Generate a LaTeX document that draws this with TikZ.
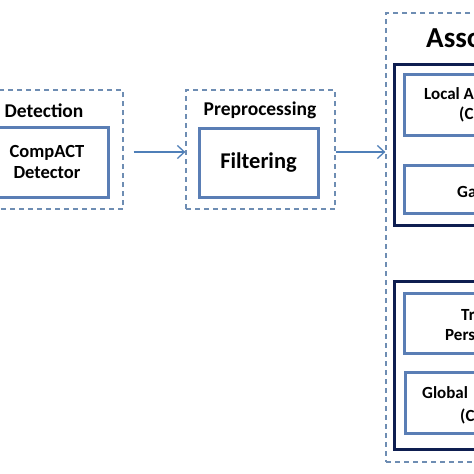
\documentclass[tikz,border=0pt]{standalone}
\usepackage{fontspec}
\setmainfont{Carlito}
\usetikzlibrary{arrows.meta}
\definecolor{dashc}{HTML}{6E8DB3}
\definecolor{boxc}{HTML}{5A7EB5}
\definecolor{navy}{HTML}{0E1E50}
\definecolor{arrc}{HTML}{4F7FB8}
\begin{document}
\begin{tikzpicture}[x=1pt,y=-1pt,
 dashbox/.style={draw=dashc,line width=1.3pt,dash pattern=on 5pt off 4pt,inner sep=0pt},
 innerbox/.style={draw=boxc,line width=3pt,inner sep=0pt},
 darkbox/.style={draw=navy,line width=3pt,inner sep=0pt},
 headlbl/.style={font=\bfseries\fontsize{19.5}{22}\selectfont,inner sep=0pt},
 lbl/.style={font=\bfseries\fontsize{18.5}{21.5}\selectfont,inner sep=0pt},
 rlbl/.style={font=\bfseries\fontsize{17}{20}\selectfont,inner sep=0pt},
 biglbl/.style={font=\bfseries\fontsize{22.5}{25}\selectfont,inner sep=0pt},
 hugelbl/.style={font=\bfseries\fontsize{29}{32}\selectfont,inner sep=0pt},
 flow/.style={draw=arrc,line width=1.3pt,-{Straight Barb[length=7pt,width=13pt,line width=1.3pt]}}]
\useasboundingbox (0,0) rectangle (474,474);
\fill[white] (0,0) rectangle (474,474);
\clip (0,0) rectangle (474,474);

% Detection
\node[dashbox,minimum width=158pt,minimum height=119pt] (detbox) at (44,149.5) {};
\node[headlbl] (detlbl) at (44,111) {Detection};
\node[innerbox,lbl,align=center,minimum width=122pt,minimum height=70pt] (det) at (47,162) {CompACT\\Detector};

% Preprocessing
\node[dashbox,minimum width=149pt,minimum height=119pt] (prebox) at (260.5,149.5) {};
\node[headlbl] (prelbl) at (260,110) {Preprocessing};
\node[innerbox,biglbl,minimum width=119pt,minimum height=69pt] (filt) at (258.5,162.5) {Filtering};

% Association
\node[dashbox,minimum width=200pt,minimum height=449pt] (assocbox) at (486,237.5) {};
\node[hugelbl,anchor=base west] (assoclbl) at (426,47) {Asso};
\node[darkbox,minimum width=180pt,minimum height=161pt] (dark1) at (484,144.5) {};
\node[innerbox,minimum width=160pt,minimum height=61pt] (loc) at (484,104.5) {};
\node[innerbox,minimum width=160pt,minimum height=48pt] (gat) at (484,189) {};
\node[darkbox,minimum width=180pt,minimum height=168pt] (dark2) at (484,365) {};
\node[innerbox,minimum width=160pt,minimum height=60pt] (trk) at (484,323) {};
\node[innerbox,minimum width=158pt,minimum height=61pt] (glob) at (484,402.5) {};

\node[rlbl,anchor=base west] (loct1) at (424,99) {Local A};
\node[rlbl,anchor=base west] (loct2) at (459,119) {(C};
\node[rlbl,anchor=base west] (gatt) at (457,197) {Ga};
\node[rlbl,anchor=base west] (trkt1) at (461,320) {Tr};
\node[rlbl,anchor=base west] (trkt2) at (445,340) {Pers};
\node[rlbl,anchor=base west] (globt1) at (422,398) {Global};
\node[rlbl,anchor=base west] (globt2) at (460,421) {(C};

% arrows
\coordinate (a1s) at ([shift={(10,2.5)}]detbox.east);
\draw[flow] (a1s) -- (a1s -| prebox.west);
\coordinate (a2s) at ([shift={(0,2.5)}]prebox.east);
\draw[flow] (a2s) -- (a2s -| assocbox.west);
\end{tikzpicture}
\end{document}
